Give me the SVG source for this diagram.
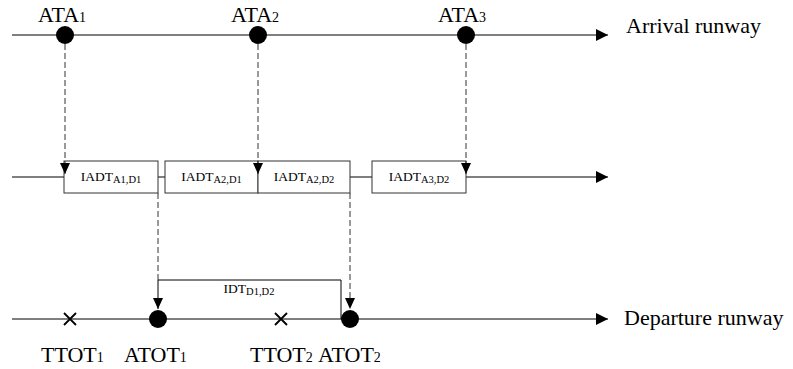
<svg xmlns="http://www.w3.org/2000/svg" width="793" height="369" viewBox="0 0 793 369">
<style>
.ln{stroke:#000;stroke-width:1;fill:none}
.x{stroke:#000;stroke-width:1.8;fill:none}
.dash{stroke:#333;stroke-width:1;fill:none;stroke-dasharray:6,3}
.dot{fill:#000}
.box{fill:#fff;stroke:#333;stroke-width:1}
.lbl{font-family:"Liberation Serif","Times New Roman",serif;font-size:22px;fill:#000}
.sm{font-family:"Liberation Serif","Times New Roman",serif;font-size:13.5px;fill:#000}
.sub{font-size:14px}
.bsub{font-size:10.5px}
</style>
<defs>
<marker id="ar" viewBox="0 0 12 12" refX="12" refY="6" markerWidth="13" markerHeight="12" markerUnits="userSpaceOnUse" orient="auto"><path d="M0,0 L12,6 L0,12 Z" fill="#000"/></marker>
<marker id="ad" viewBox="0 0 11 10" refX="11" refY="5" markerWidth="11" markerHeight="10" markerUnits="userSpaceOnUse" orient="auto"><path d="M0,0 L11,5 L0,10 Z" fill="#000"/></marker>
</defs>
<g id="connectors">
<line class="ln" x1="12" y1="35" x2="608" y2="35" marker-end="url(#ar)"/>
<line class="ln" x1="12" y1="177" x2="608" y2="177" marker-end="url(#ar)"/>
<line class="ln" x1="12" y1="319" x2="608" y2="319" marker-end="url(#ar)"/>
</g>
<g id="box-a1d1"><rect class="box" x="64" y="161" width="94" height="32"/><text class="sm" x="111" y="181" text-anchor="middle">IADT<tspan class="bsub" dy="2">A1,D1</tspan></text></g>
<g id="box-a2d1"><rect class="box" x="165" y="161" width="93" height="32"/><text class="sm" x="211.5" y="181" text-anchor="middle">IADT<tspan class="bsub" dy="2">A2,D1</tspan></text></g>
<g id="box-a2d2"><rect class="box" x="258" y="161" width="92" height="32"/><text class="sm" x="304" y="181" text-anchor="middle">IADT<tspan class="bsub" dy="2">A2,D2</tspan></text></g>
<g id="box-a3d2"><rect class="box" x="372" y="161" width="94" height="32"/><text class="sm" x="419" y="181" text-anchor="middle">IADT<tspan class="bsub" dy="2">A3,D2</tspan></text></g>
<g id="connectors-dashed">
<line class="dash" x1="65" y1="44" x2="65" y2="174" marker-end="url(#ad)"/>
<line class="dash" x1="258" y1="44" x2="258" y2="174" marker-end="url(#ad)"/>
<line class="dash" x1="466" y1="44" x2="466" y2="174" marker-end="url(#ad)"/>
<line class="dash" x1="158" y1="193" x2="158" y2="280"/>
<line class="dash" x1="350" y1="193" x2="350" y2="309" marker-end="url(#ad)"/>
<path class="ln" d="M341,319 V280 H158 V309" marker-end="url(#ad)"/>
</g>
<g id="idt"><text class="sm" x="249" y="293" text-anchor="middle">IDT<tspan class="bsub" dy="2">D1,D2</tspan></text></g>
<g id="ata1"><circle class="dot" cx="65" cy="35" r="9"/><text class="lbl" x="38" y="22">ATA<tspan class="sub">1</tspan></text></g>
<g id="ata2"><circle class="dot" cx="258" cy="35" r="9"/><text class="lbl" x="231" y="22">ATA<tspan class="sub">2</tspan></text></g>
<g id="ata3"><circle class="dot" cx="466" cy="35" r="9"/><text class="lbl" x="438" y="22">ATA<tspan class="sub">3</tspan></text></g>
<g id="arrival"><text class="lbl" x="626" y="33">Arrival runway</text></g>
<g id="departure"><text class="lbl" x="624" y="325">Departure runway</text></g>
<g id="ttot1"><path class="x" d="M64,313 L76,325 M76,313 L64,325"/><text class="lbl" x="41" y="362">TTOT<tspan class="sub">1</tspan></text></g>
<g id="atot1"><circle class="dot" cx="158" cy="319" r="9"/><text class="lbl" x="124" y="362">ATOT<tspan class="sub">1</tspan></text></g>
<g id="ttot2"><path class="x" d="M275,313 L287,325 M287,313 L275,325"/><text class="lbl" x="250" y="362">TTOT<tspan class="sub">2</tspan></text></g>
<g id="atot2"><circle class="dot" cx="350" cy="319" r="9"/><text class="lbl" x="318" y="362">ATOT<tspan class="sub">2</tspan></text></g>
</svg>
